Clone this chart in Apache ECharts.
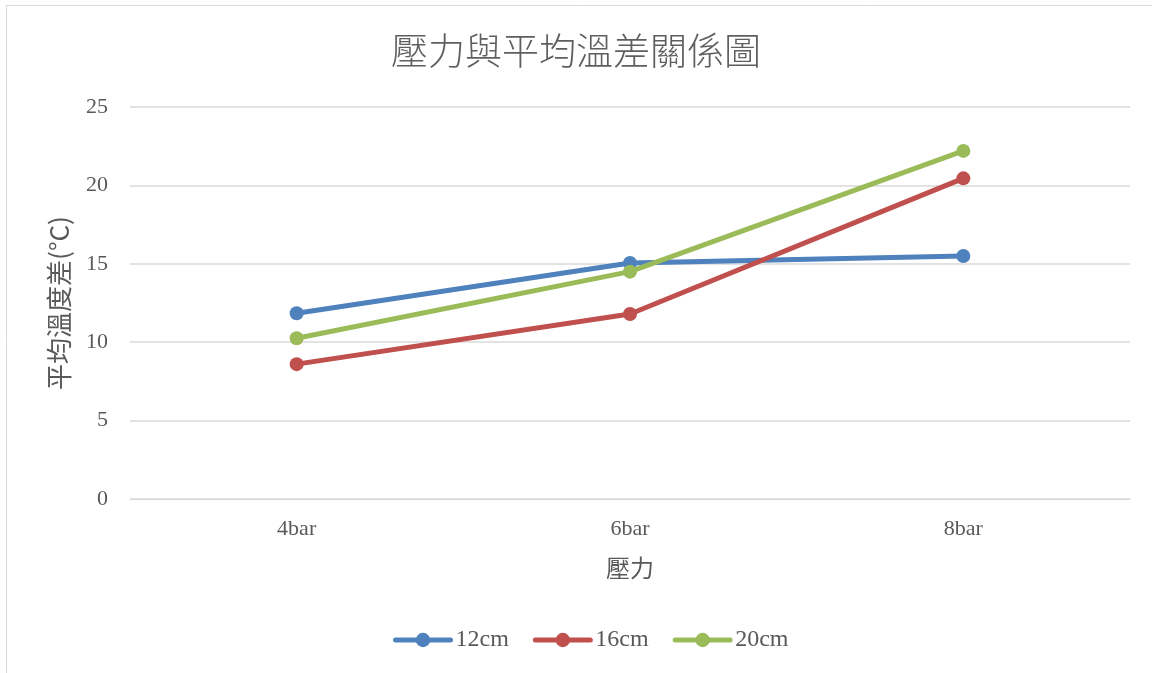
<!DOCTYPE html>
<html>
<head>
<meta charset="utf-8">
<script src="https://cdn.jsdelivr.net/npm/echarts@6/dist/echarts.min.js"></script>
<style>
  html, body { margin: 0; padding: 0; background: #fff; }
  #chart { width: 1152px; height: 673px; }
</style>
</head>
<body>
<div id="chart"></div>
<script>
// Pressure levels on the x axis
const categories = ['4bar', '6bar', '8bar'];
// Average temperature difference (°C) per distance
const series12cm = [11.85, 15.05, 15.5];
const series16cm = [8.6, 11.8, 20.45];
const series20cm = [10.25, 14.5, 22.2];
const seriesNames = ['12cm', '16cm', '20cm'];
const yTicks = { min: 0, max: 25, interval: 5 };

const colors = ['#4F81BD', '#C0504D', '#9BBB59'];
const textColor = '#595959';
const numFont = '"Liberation Serif", "DejaVu Serif", serif';
const cjkFont = '"Noto Sans CJK TC", "Noto Sans CJK SC", sans-serif';

const chart = echarts.init(document.getElementById('chart'));

function lineSeries(name, data, color) {
  return {
    name: name,
    type: 'line',
    data: data,
    symbol: 'circle',
    symbolSize: 14,
    lineStyle: { width: 5, color: color, cap: 'round' },
    itemStyle: { color: color },
    emphasis: { disabled: true },
    animation: false
  };
}

chart.setOption({
  animation: false,
  graphic: [{
    type: 'rect',
    shape: { x: 6.5, y: 5.5, width: 1160, height: 700 },
    style: { fill: 'none', stroke: '#D9D9D9', lineWidth: 1 },
    silent: true,
    z: -1
  }],
  title: {
    text: '壓力與平均溫差關係圖',
    left: 'center',
    top: 27,
    textStyle: {
      fontFamily: cjkFont,
      fontWeight: 300,
      fontSize: 37,
      color: '#5f5f5f'
    }
  },
  legend: {
    data: seriesNames,
    bottom: 16,
    left: 388,
    itemWidth: 55,
    itemHeight: 18,
    itemGap: 24,
    lineStyle: { width: 5, cap: 'round' },
    textStyle: { fontFamily: numFont, fontSize: 24, color: textColor }
  },
  grid: { left: 130, right: 22, top: 107, bottom: 174, containLabel: false },
  xAxis: {
    type: 'category',
    data: categories,
    boundaryGap: true,
    name: '壓力',
    nameLocation: 'middle',
    nameGap: 57,
    nameTextStyle: { fontFamily: cjkFont, fontSize: 24, color: textColor },
    axisLine: { show: true, lineStyle: { color: '#D9D9D9', width: 1 } },
    axisTick: { show: false },
    axisLabel: { fontFamily: numFont, fontSize: 22, color: textColor, margin: 19 }
  },
  yAxis: {
    type: 'value',
    min: yTicks.min,
    max: yTicks.max,
    interval: yTicks.interval,
    name: '平均溫度差(°C)',
    nameLocation: 'middle',
    nameGap: 58,
    nameRotate: 90,
    nameTextStyle: { fontFamily: cjkFont, fontSize: 26, color: textColor },
    axisLine: { show: false },
    axisTick: { show: false },
    axisLabel: { fontFamily: numFont, fontSize: 22, color: textColor, margin: 22 },
    splitLine: { lineStyle: { color: '#D9D9D9', width: 1.5 } }
  },
  series: [
    lineSeries(seriesNames[0], series12cm, colors[0]),
    lineSeries(seriesNames[1], series16cm, colors[1]),
    lineSeries(seriesNames[2], series20cm, colors[2])
  ]
});
</script>
</body>
</html>
